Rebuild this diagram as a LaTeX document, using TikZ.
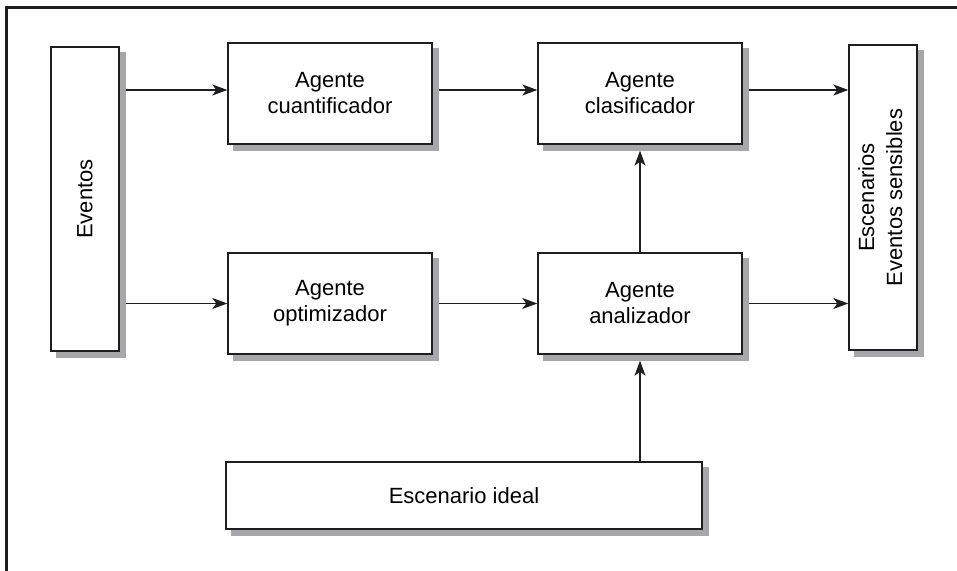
\documentclass[tikz,border=0pt]{standalone}
\usepackage{fontspec}
\setmainfont{Liberation Sans}
\usepackage{xcolor}
\definecolor{sombra}{RGB}{167, 167, 169}
\definecolor{trazo}{RGB}{30, 30, 32}
\usetikzlibrary{
    arrows.meta,
    calc,
    backgrounds
}
\tikzset{
    caja/.style={draw=trazo, line width=0.7pt, fill=white, align=center, inner sep=0pt,
        font=\fontsize{11}{13}\selectfont},
    flecha/.style={-{Stealth[length=7.5pt,width=5.5pt,inset=2pt]}, line width=0.55pt, draw=trazo}
}

\begin{document}
\begin{tikzpicture}[x=0.5pt,y=-0.5pt]
    \useasboundingbox (0,0) rectangle (957,571);
    \draw[line width=1.5pt, draw=trazo] (6,8) rectangle (990,600);

    \node[caja, minimum width=34pt, minimum height=152pt] (eventos) at (85,199)
        {\rotatebox{90}{Eventos}};
    \node[caja, minimum width=102pt, minimum height=50.5pt] (cuant) at (330,93.5)
        {Agente\\cuantificador};
    \node[caja, minimum width=102pt, minimum height=50.5pt] (clas) at (640,93.5)
        {Agente\\clasificador};
    \node[caja, minimum width=102pt, minimum height=50.5pt] (opt) at (330,303.5)
        {Agente\\optimizador};
    \node[caja, minimum width=102pt, minimum height=50.5pt] (anal) at (640,303.5)
        {Agente\\analizador};
    \node[caja, minimum width=34pt, minimum height=152.5pt] (escen) at (883,197.5)
        {\rotatebox{90}{\begin{tabular}{@{}c@{}}Escenarios\\[1pt]Eventos sensibles\end{tabular}}};
    \node[caja, minimum width=238pt, minimum height=33.5pt] (ideal) at (464,495.5)
        {Escenario ideal};

    % sombras
    \begin{scope}[on background layer]
        \foreach \n in {eventos,cuant,clas,opt,anal,escen,ideal}
            \fill[sombra] ($(\n.south west)+(3pt,-3pt)$) rectangle ($(\n.north east)+(3pt,-3pt)$);
    \end{scope}

    \draw[flecha, shorten <=3pt] ([yshift=1.75pt]eventos.east |- cuant.west) -- ([yshift=1.75pt]cuant.west);
    \draw[flecha, shorten <=3pt] ([yshift=1.75pt]cuant.east) -- ([yshift=1.75pt]clas.east -| clas.west);
    \draw[flecha, shorten <=3pt] ([yshift=1.75pt]clas.east) -- ([yshift=1.75pt]clas.east -| escen.west);
    \draw[flecha, shorten <=3pt] (eventos.east |- opt.west) -- (opt.west);
    \draw[flecha, shorten <=3pt] (opt.east) -- (anal.west);
    \draw[flecha, shorten <=3pt] (anal.east) -- (anal.east -| escen.west);
    \draw[flecha, shorten >=3pt] (anal.north) -- (clas.south);
    \draw[flecha, shorten >=3pt] (ideal.north -| anal.south) -- (anal.south);
\end{tikzpicture}
\end{document}
